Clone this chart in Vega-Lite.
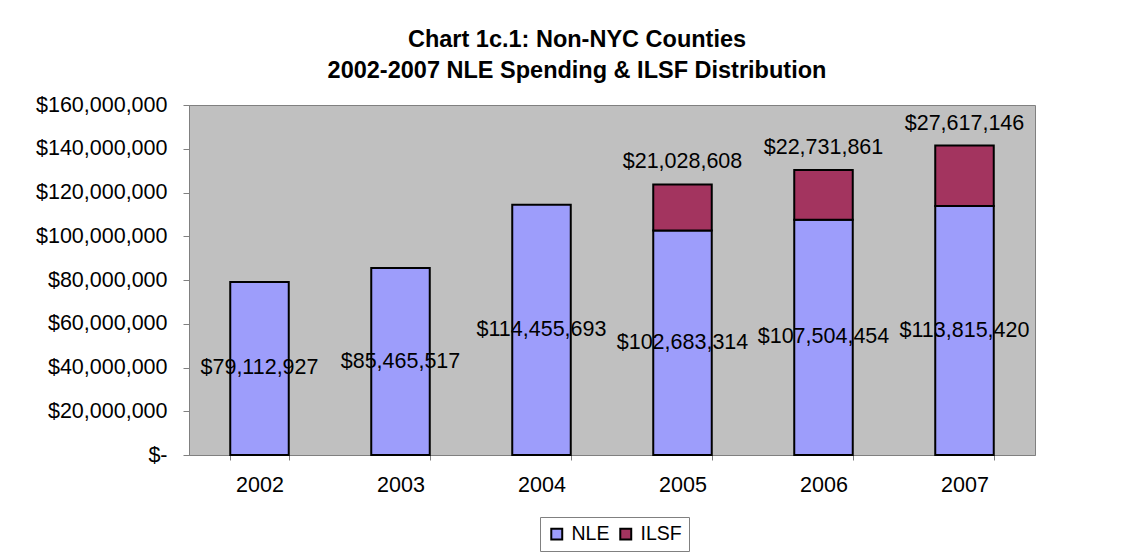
{
  "$schema": "https://vega.github.io/schema/vega-lite/v6.json",
  "autosize": "none",
  "width": 846,
  "height": 350,
  "padding": {"left": 189, "top": 105, "right": 98, "bottom": 104},
  "background": "white",
  "title": {
    "text": ["Chart 1c.1: Non-NYC Counties", "2002-2007 NLE Spending & ILSF Distribution"],
    "font": "Liberation Sans",
    "fontSize": 23.5,
    "fontWeight": "bold",
    "color": "black",
    "lineHeight": 31,
    "offset": 12,
    "dx": -35
  },
  "data": {
    "values": [
      {"year": "2002", "type": "NLE", "value": 79112927},
      {"year": "2003", "type": "NLE", "value": 85465517},
      {"year": "2004", "type": "NLE", "value": 114455693},
      {"year": "2005", "type": "NLE", "value": 102683314},
      {"year": "2005", "type": "ILSF", "value": 21028608},
      {"year": "2006", "type": "NLE", "value": 107504454},
      {"year": "2006", "type": "ILSF", "value": 22731861},
      {"year": "2007", "type": "NLE", "value": 113815420},
      {"year": "2007", "type": "ILSF", "value": 27617146}
    ]
  },
  "encoding": {
    "x": {
      "field": "year",
      "type": "ordinal",
      "scale": {"paddingInner": 0.585, "paddingOuter": 0.2925},
      "axis": {
        "title": null,
        "labelAngle": 0,
        "labelFont": "Liberation Sans",
        "labelFontSize": 21.5,
        "labelColor": "black",
        "labelPadding": 14,
        "domainColor": "#808080",
        "tickColor": "#808080",
        "tickBand": "extent",
        "tickSize": 5
      }
    }
  },
  "resolve": {"scale": {"y": "independent"}},
  "layer": [
    {
      "layer": [
        {
          "mark": {"type": "bar", "stroke": "black", "strokeWidth": 2},
          "encoding": {
            "y": {
              "field": "value",
              "type": "quantitative",
              "stack": "zero",
              "scale": {"domain": [0, 160000000], "nice": false},
              "axis": {
                "title": null,
                "values": [0, 20000000, 40000000, 60000000, 80000000, 100000000, 120000000, 140000000, 160000000],
                "labelExpr": "datum.value == 0 ? '$-' : '$' + format(datum.value, ',')",
                "labelOverlap": false,
                "labelFont": "Liberation Sans",
                "labelFontSize": 21.5,
                "labelColor": "black",
                "labelPadding": 16,
                "domainColor": "#808080",
                "tickColor": "#808080",
                "tickSize": 6,
                "grid": false
              }
            },
            "color": {
              "field": "type",
              "type": "nominal",
              "scale": {"domain": ["NLE", "ILSF"], "range": ["#9d9dfb", "#a3345f"]},
              "legend": {
                "title": null,
                "orient": "none",
                "legendX": 351,
                "legendY": 412,
                "direction": "horizontal",
                "labelFont": "Liberation Sans",
                "labelFontSize": 19.5,
                "labelColor": "black",
                "symbolType": "square",
                "symbolSize": 120,
                "symbolStrokeColor": "black",
                "symbolStrokeWidth": 2,
                "strokeColor": "#808080",
                "fillColor": "white",
                "padding": 7,
                "columnPadding": 6,
                "labelOffset": 5
              }
            },
            "order": {"field": "type", "sort": "descending"}
          }
        },
        {
          "mark": {"type": "text", "font": "Liberation Sans", "fontSize": 21.5, "color": "black", "baseline": "bottom", "dy": -11},
          "encoding": {
            "y": {"field": "value", "type": "quantitative", "stack": "zero"},
            "detail": {"field": "type"},
            "order": {"field": "type", "sort": "descending"},
            "text": {
              "condition": {"test": "datum.type == 'ILSF'", "field": "value", "type": "quantitative", "format": "$,.0f"},
              "value": ""
            }
          }
        }
      ]
    },
    {
      "transform": [{"filter": "datum.type == 'NLE'"}],
      "mark": {"type": "text", "font": "Liberation Sans", "fontSize": 21.5, "color": "black", "baseline": "middle"},
      "encoding": {
        "y": {"field": "value", "type": "quantitative", "scale": {"domain": [0, 320000000], "nice": false}, "axis": null},
        "text": {"field": "value", "type": "quantitative", "format": "$,.0f"}
      }
    }
  ],
  "config": {
    "view": {"fill": "#c0c0c0", "stroke": "#808080", "strokeWidth": 1}
  }
}
